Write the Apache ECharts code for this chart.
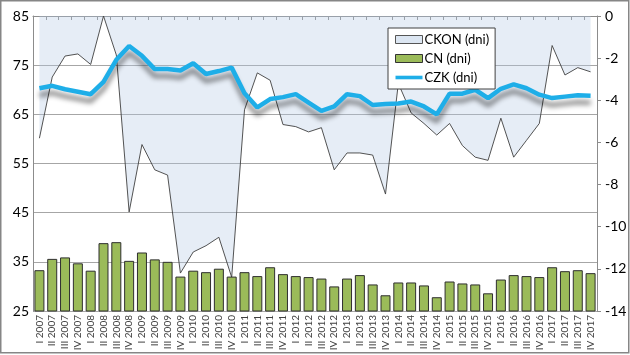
<!DOCTYPE html>
<html>
<head>
<meta charset="utf-8">
<script src="https://cdn.jsdelivr.net/npm/echarts@6/dist/echarts.min.js"></script>
<style>
html,body{margin:0;padding:0;background:#fff;}
#c{width:630px;height:355px;}
</style>
</head>
<body>
<div id="c"></div>
<script>
const categories = [
  'I 2007','II 2007','III 2007','IV 2007',
  'I 2008','II 2008','III 2008','IV 2008',
  'I 2009','II 2009','III 2009','IV 2009',
  'I 2010','II 2010','III 2010','IV 2010',
  'I 2011','II 2011','III 2011','IV 2011',
  'I 2012','II 2012','III 2012','IV 2012',
  'I 2013','II 2013','III 2013','IV 2013',
  'I 2014','II 2014','III 2014','IV 2014',
  'I 2015','II 2015','III 2015','IV 2015',
  'I 2016','II 2016','III 2016','IV 2016',
  'I 2017','II 2017','III 2017','IV 2017'
];
// CKON (dni) - right axis
const ckon = [
  -5.8,-2.9,-1.9,-1.8,
  -2.3,0.0,-1.85,-9.3,
  -6.1,-7.3,-7.55,-12.2,
  -11.2,-10.9,-10.5,-12.4,
  -4.45,-2.7,-3.05,-5.15,
  -5.25,-5.5,-5.3,-7.3,
  -6.5,-6.5,-6.6,-8.45,
  -3.2,-4.6,-5.1,-5.65,
  -5.1,-6.15,-6.7,-6.85,
  -4.85,-6.7,-5.9,-5.1,
  -1.4,-2.8,-2.45,-2.65
];
// CN (dni) - left axis
const cn = [
  33.3,35.6,35.9,34.7,
  33.2,38.8,39.0,35.2,
  36.9,35.5,35.0,32.0,
  33.2,32.9,33.6,32.0,
  32.9,32.1,33.9,32.5,
  32.1,31.9,31.6,30.0,
  31.6,32.3,30.4,28.2,
  30.8,30.8,30.2,27.8,
  31.0,30.6,30.4,28.6,
  31.4,32.3,32.1,31.9,
  33.9,33.1,33.3,32.7
];
// CZK (dni) - left axis
const czk = [
  70.3,70.8,70.1,69.6,
  69.1,71.6,76.1,78.9,
  76.9,74.2,74.2,73.9,
  75.4,73.2,73.8,74.5,
  69.3,66.4,68.1,68.5,
  69.1,67.4,65.7,66.6,
  69.1,68.7,66.9,67.1,
  67.2,67.6,66.6,65.0,
  69.2,69.2,70.0,68.3,
  70.2,71.1,70.3,69.0,
  68.3,68.6,68.9,68.8
];
const leftTicks = {min:25, max:85, interval:10};
const rightTicks = {min:-14, max:0, interval:2};

const FONT = 'Lato';
const chart = echarts.init(document.getElementById('c'), null, {renderer:'canvas'});
chart.setOption({
  animation:false,
  backgroundColor:'#fff',
  textStyle:{fontFamily:FONT},
  grid:{left:33, right:33, top:16, bottom:44, containLabel:false},
  graphic:[{
    type:'rect', silent:true, z:-10,
    shape:{x:0.75, y:0.75, width:628, height:352},
    style:{fill:'none', stroke:'#868686', lineWidth:1.5}
  }],
  legend:{
    orient:'vertical',
    left:388, top:28,
    backgroundColor:'#fff',
    borderColor:'#404040', borderWidth:1,
    padding:[5,6,5,7],
    itemWidth:27, itemHeight:8, itemGap:6,
    textStyle:{fontSize:13, color:'#000', fontFamily:FONT, padding:[0,0,0,-3]},
    data:[
      {name:'CKON (dni)', icon:'rect', itemStyle:{color:'#dce6f2', borderColor:'#555', borderWidth:1}},
      {name:'CN (dni)', icon:'rect', itemStyle:{color:'#9bbb59', borderColor:'#333', borderWidth:1}},
      {name:'CZK (dni)', icon:'path://M0,0 L30,0 L30,4 L0,4 Z',
       itemStyle:{color:'#1eaee8', borderWidth:0, shadowBlur:0, shadowOffsetY:0, shadowColor:'rgba(0,0,0,0)'}}
    ]
  },
  xAxis:{
    type:'category',
    data:categories,
    boundaryGap:true,
    axisLine:{lineStyle:{color:'#8c8c8c', width:1}},
    axisTick:{show:true, length:4, lineStyle:{color:'#8c8c8c'}},
    axisLabel:{rotate:90, fontSize:10, color:'#404040', margin:4, interval:0, fontFamily:FONT}
  },
  yAxis:[
    {
      type:'value', position:'left',
      min:leftTicks.min, max:leftTicks.max, interval:leftTicks.interval,
      axisLine:{show:true, lineStyle:{color:'#8c8c8c'}},
      axisTick:{show:false},
      splitLine:{show:true, lineStyle:{color:'#a6a6a6', width:1}},
      axisLabel:{fontSize:14, color:'#000', margin:4, fontFamily:FONT}
    },
    {
      type:'value', position:'right',
      min:rightTicks.min, max:rightTicks.max, interval:rightTicks.interval,
      axisLine:{show:true, lineStyle:{color:'#8c8c8c'}},
      axisTick:{show:true, inside:false, length:4, lineStyle:{color:'#8c8c8c'}},
      splitLine:{show:false},
      axisLabel:{fontSize:14, color:'#000', margin:8, fontFamily:FONT}
    }
  ],
  series:[
    {
      name:'CKON (dni)', type:'line', yAxisIndex:1,
      data:ckon, symbol:'none', z:1,
      lineStyle:{color:'#404040', width:0.9},
      itemStyle:{color:'#dce6f2'},
      areaStyle:{color:'rgba(180,202,228,0.48)', origin:'end'}
    },
    {
      name:'CN (dni)', type:'bar', yAxisIndex:0,
      data:cn, barCategoryGap:'22%', z:2,
      itemStyle:{color:'#9bbb59', borderColor:'#2f2f2f', borderWidth:1}
    },
    {
      name:'CZK (dni)', type:'line', yAxisIndex:0,
      data:czk, symbol:'none', z:3,
      itemStyle:{color:'#1eaee8'},
      lineStyle:{color:'#1eaee8', width:4.5, shadowColor:'rgba(0,0,0,0.45)', shadowBlur:5, shadowOffsetY:7, shadowOffsetX:0}
    }
  ]
});
</script>
</body>
</html>
